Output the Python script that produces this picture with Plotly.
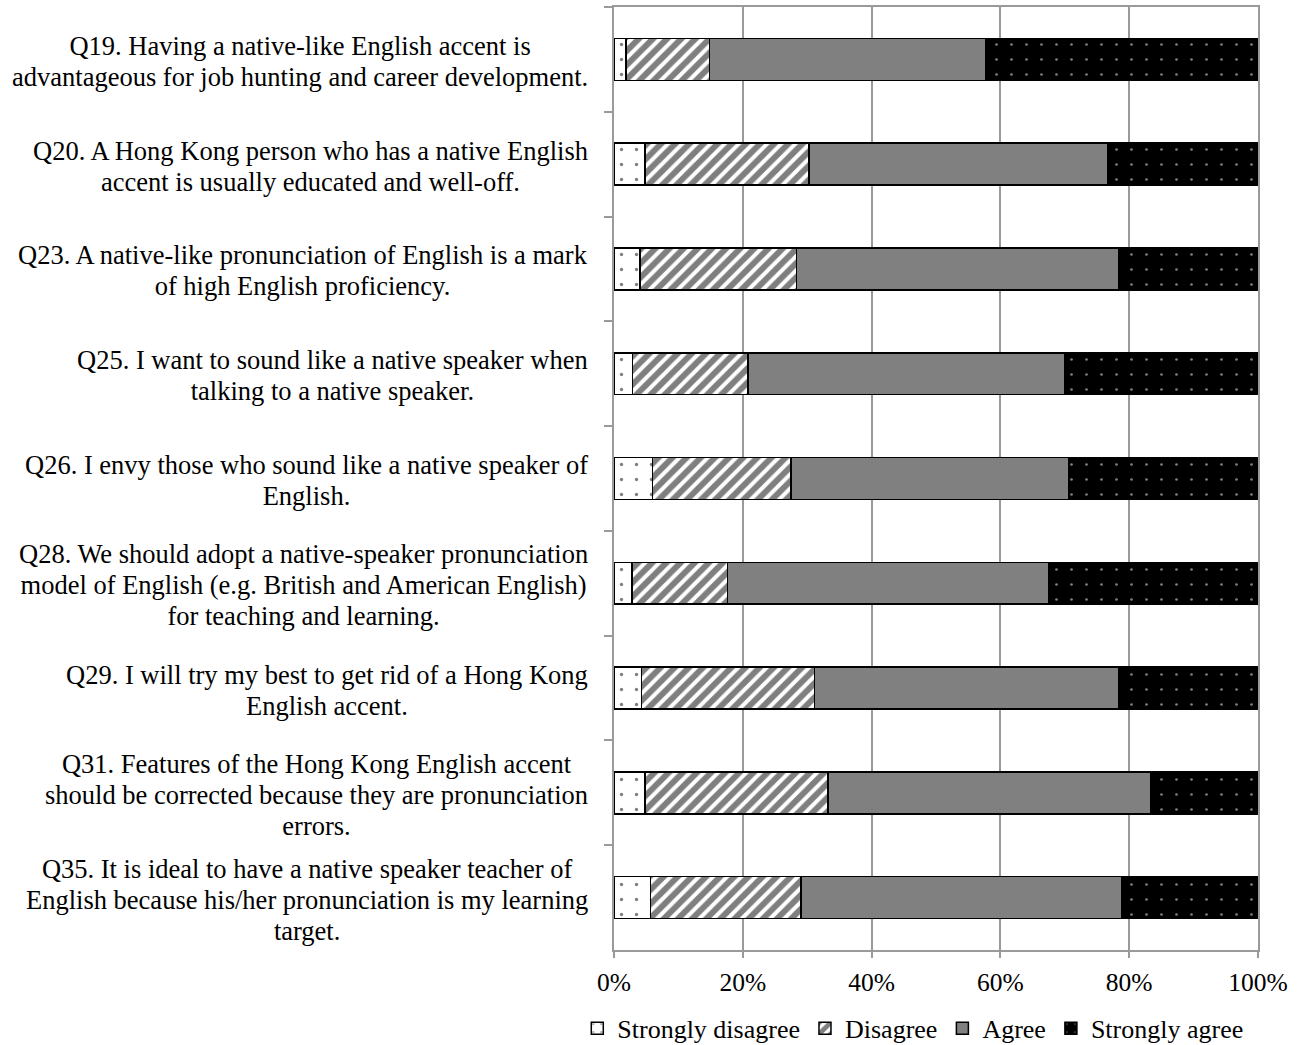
import plotly.graph_objects as go

# Survey items (top to bottom); "<br>" marks the line breaks of each label
questions = [
    "Q19. Having a native-like English accent is<br>advantageous for job hunting and career development.",
    "Q20. A Hong Kong person who has a native English<br>accent is usually educated and well-off.",
    "Q23. A native-like pronunciation of English is a mark<br>of high English proficiency.",
    "Q25. I want to sound like a native speaker when<br>talking to a native speaker.",
    "Q26. I envy those who sound like a native speaker of<br>English.",
    "Q28. We should adopt a native-speaker pronunciation<br>model of English (e.g. British and American English)<br>for teaching and learning.",
    "Q29. I will try my best to get rid of a Hong Kong<br>English accent.",
    "Q31. Features of the Hong Kong English accent<br>should be corrected because they are pronunciation<br>errors.",
    "Q35. It is ideal to have a native speaker teacher of<br>English because his/her pronunciation is my learning<br>target.",
]
item_ids = ["Q19", "Q20", "Q23", "Q25", "Q26", "Q28", "Q29", "Q31", "Q35"]

# Response shares (%)
strongly_disagree = [1.9, 4.8, 4.0, 2.9, 6.0, 2.8, 4.3, 4.8, 5.7]
disagree = [12.9, 25.5, 24.3, 17.9, 21.5, 14.8, 26.8, 28.4, 23.3]
agree = [42.9, 46.4, 50.1, 49.2, 43.1, 49.9, 47.3, 50.1, 49.8]
strongly_agree = [42.3, 23.3, 21.6, 30.0, 29.4, 32.5, 21.6, 16.7, 21.2]

series_names = ["Strongly disagree", "Disagree", "Agree", "Strongly agree"]
series_values = [strongly_disagree, disagree, agree, strongly_agree]

x_ticks = [0, 0.2, 0.4, 0.6, 0.8, 1.0]
x_tick_labels = ["0%", "20%", "40%", "60%", "80%", "100%"]

FONT = "Liberation Serif"
GRID = "#9a9a9a"
LABEL_SIZE = 26.5          # glyph size of the item labels
LINE_STEP = 31             # px between label lines
LINE_BASE = LINE_STEP / 1.3  # plotly spaces lines at 1.3em of the base font

patterns = [
    dict(shape=".", fgcolor="black", bgcolor="white", size=15, solidity=0.04),
    dict(shape="/", fgcolor="black", bgcolor="white", size=10, solidity=0.6),
    None,
    dict(shape=".", fgcolor="white", bgcolor="black", size=15, solidity=0.025),
]
base_colors = ["white", "white", "#808080", "black"]

fig = go.Figure()
for name, vals, pat, col in zip(series_names, series_values, patterns, base_colors):
    marker = dict(color=col, line=dict(color="black", width=1.5))
    if pat is not None:
        marker["pattern"] = pat
    fig.add_trace(go.Bar(
        name=name,
        y=item_ids,
        x=[v / 100 for v in vals],
        orientation="h",
        marker=marker,
    ))

# Item labels: lines centred within each block, block right-aligned to the axis
for qid, label in zip(item_ids, questions):
    styled = "<br>".join(
        f'<span style="font-size:{LABEL_SIZE}px">{line}</span>'
        for line in label.split("<br>")
    )
    fig.add_annotation(
        x=0, xref="paper", xanchor="right", xshift=-24,
        y=qid, yref="y", yanchor="middle", yshift=-2,
        text=styled, showarrow=False, align="center",
        font=dict(family=FONT, size=LINE_BASE, color="black"),
    )

fig.update_layout(
    barmode="stack",
    bargap=0.6,
    width=1306, height=1045,
    margin=dict(l=614, r=48, t=7, b=95, autoexpand=False),
    plot_bgcolor="white",
    paper_bgcolor="white",
    font=dict(family=FONT, size=26, color="black"),
    legend=dict(
        orientation="h",
        xref="paper", yref="paper",
        x=-0.057, xanchor="left",
        y=-0.083, yanchor="middle",
        font=dict(family=FONT, size=26, color="black"),
        itemwidth=30,
        traceorder="normal",
        bgcolor="rgba(0,0,0,0)",
    ),
    showlegend=True,
)

fig.update_xaxes(
    range=[0, 1],
    tickvals=x_ticks,
    ticktext=x_tick_labels,
    showgrid=True, gridcolor=GRID, gridwidth=1.5,
    showline=True, linecolor=GRID, linewidth=1.5, mirror=True,
    ticks="outside", ticklen=6, tickcolor=GRID, tickwidth=1.5,
    ticklabelstandoff=3,
    zeroline=False,
    tickfont=dict(family=FONT, size=25.5, color="black"),
)
fig.update_yaxes(
    type="category",
    categoryorder="array", categoryarray=item_ids,
    autorange="reversed",
    showticklabels=False,
    tickson="boundaries",
    ticks="outside", ticklen=8, tickcolor=GRID, tickwidth=1.5,
    showline=True, linecolor=GRID, linewidth=1.5, mirror=True,
    showgrid=False, zeroline=False,
)

fig.write_html("out.html")
